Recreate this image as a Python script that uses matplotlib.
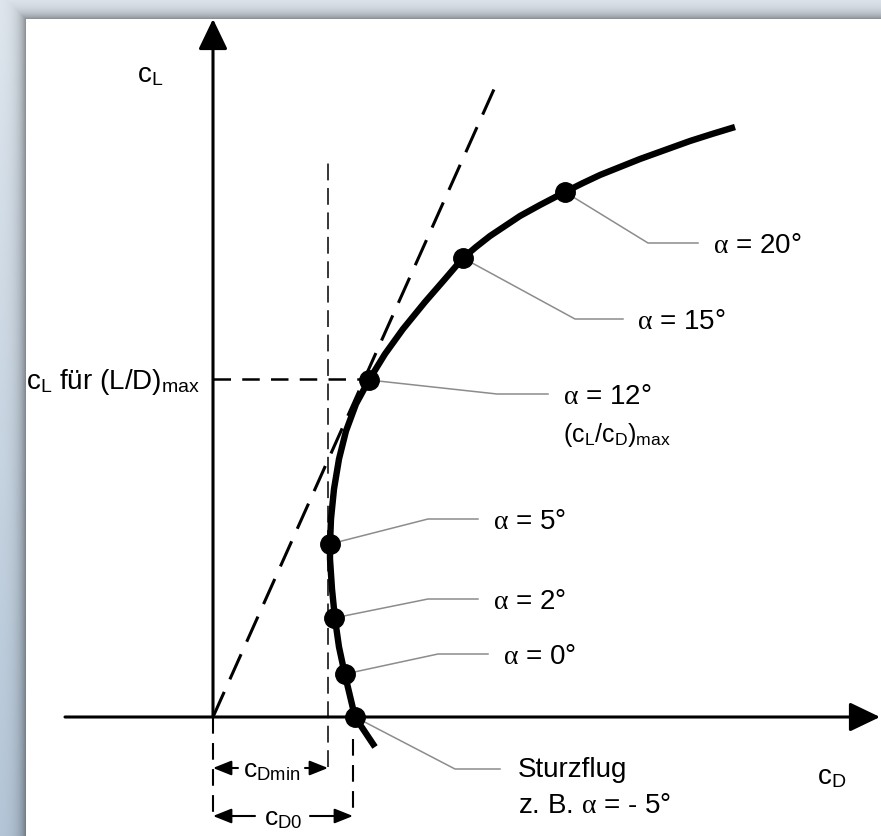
import numpy as np
import matplotlib
matplotlib.use('Agg')
import matplotlib.pyplot as plt

plt.rcParams['font.family'] = ['Liberation Sans', 'DejaVu Sans']
plt.rcParams['mathtext.fontset'] = 'custom'
plt.rcParams['mathtext.rm'] = 'Liberation Sans'
plt.rcParams['mathtext.it'] = 'Liberation Serif'
plt.rcParams['mathtext.bf'] = 'Liberation Sans:bold'

# ---------------- data (arbitrary units) ----------------
alpha_deg = [-5, 0, 2, 5, 12, 15, 20]
cD_marks = [1.42, 1.32, 1.21, 1.17, 1.56, 2.50, 3.52]
cL_marks = [0.00, 0.43, 0.99, 1.73, 3.37, 4.59, 5.25]

polar_cD = [1.62, 1.52, 1.42, 1.37, 1.32, 1.26, 1.22, 1.19, 1.17, 1.17, 1.18, 1.21,
            1.26, 1.33, 1.43, 1.56, 1.72, 1.90, 2.12, 2.32, 2.50, 2.63, 2.77, 2.92,
            3.07, 3.27, 3.52, 3.70, 3.87, 4.07, 4.27, 4.52, 4.77, 4.99, 5.22]
polar_cL = [-0.30, -0.15, 0.00, 0.21, 0.42, 0.70, 0.98, 1.28, 1.58, 1.73, 1.98, 2.28,
            2.58, 2.86, 3.13, 3.37, 3.63, 3.88, 4.15, 4.38, 4.59, 4.70, 4.81, 4.91,
            5.01, 5.12, 5.25, 5.34, 5.42, 5.50, 5.58, 5.67, 5.76, 5.83, 5.90]

cD_min = 1.15
cD_0 = 1.40
cL_LDmax = 3.38
tangent_cD = [0.0, 2.82]
tangent_cL = [0.0, 6.30]

labels = [r'z. B. $\alpha$ = - 5°', r'$\alpha$ = 0°', r'$\alpha$ = 2°', r'$\alpha$ = 5°',
          r'$\alpha$ = 12°', r'$\alpha$ = 15°', r'$\alpha$ = 20°']

# ---------------- layout ----------------
W, H = 881, 837
fig = plt.figure(figsize=(W / 100, H / 100), dpi=100)

# background with panel + shadow
yy, xx = np.mgrid[0:H, 0:W].astype(float)
t = yy / H
base = np.stack([0.88 - 0.17 * t, 0.91 - 0.13 * t, 0.94 - 0.09 * t], axis=-1)
px0, py0 = 26, 20
d = np.maximum(px0 - xx, py0 - yy)
shadow = np.where(d > 0, 0.42 * np.exp(-d / 7.0), 0.0)
img = base * (1 - shadow[..., None])
inside = (xx >= px0) & (yy >= py0)
img[inside] = 1.0
bg = fig.add_axes([0, 0, 1, 1])
bg.imshow(np.clip(img, 0, 1), extent=[0, W, H, 0], aspect='auto', interpolation='bilinear')
bg.set_axis_off()

ax = fig.add_axes([0, 0, 1, 1])
ax.set_facecolor('none')
ax.set_xlim(-2.13, 6.68)
ax.set_ylim(-1.19, 7.18)
ax.set_axis_off()

PX = 0.01  # data units per pixel
FS = 20

# axes with arrows
axis_style = '-|>,head_length=0.75,head_width=0.36'
ax.annotate('', xy=(6.67, 0), xytext=(-1.48, 0), annotation_clip=False,
            arrowprops=dict(arrowstyle=axis_style, lw=2.2,
                            color='black', mutation_scale=25, shrinkA=0, shrinkB=0))
ax.annotate('', xy=(0, 6.98), xytext=(0, 0), annotation_clip=False,
            arrowprops=dict(arrowstyle=axis_style, lw=2.2,
                            color='black', mutation_scale=25, shrinkA=0, shrinkB=0))

# tangent
ax.plot(tangent_cD, tangent_cL, color='black', lw=2.2, dashes=(9, 4.5), zorder=3)
# vertical cDmin line
ax.plot([cD_min, cD_min], [-0.50, 5.58], color='black', lw=1.1, dashes=(11, 5), zorder=3)
# horizontal cL (L/D)max
ax.plot([0, cD_marks[4]], [cL_LDmax, cL_LDmax], color='black', lw=1.8, dashes=(7, 4.5), zorder=3)
# vertical dims
ax.plot([0, 0], [0, -1.00], color='black', lw=1.5, dashes=(8, 4.5), zorder=3)
ax.plot([cD_0, cD_0], [-0.22, -1.00], color='black', lw=1.5, dashes=(8, 4.5), zorder=3)

# polar curve
ax.plot(polar_cD, polar_cL, color='black', lw=4.6, solid_capstyle='butt',
        solid_joinstyle='round', zorder=4)
ax.plot(cD_marks, cL_marks, 'o', color='black', ms=14, zorder=5)

# leaders: (elbow dx, elbow dy, horizontal length, text gap) in px, y down
leader = [(100, 52, 45, 18), (93, -20, 50, 15), (94, -19, 50, 15), (98, -25, 50, 15),
          (128, 14, 51, 15), (112, 61, 48, 14), (83, 51, 50, 15)]
for i, (cd, cl) in enumerate(zip(cD_marks, cL_marks)):
    ex, ey, hl, gap = leader[i]
    x1, y1 = cd + ex * PX, cl - ey * PX
    x2 = x1 + hl * PX
    ax.plot([cd, x1, x2], [cl, y1, y1], color='#8c8c8c', lw=1.1, zorder=2)
    if i == 0:
        ax.text(x2 + gap * PX, y1, 'Sturzflug', fontsize=FS, ha='left', va='center')
        ax.text(x2 + gap * PX, y1 - 0.36, labels[i], fontsize=FS, ha='left', va='center')
    else:
        ax.text(x2 + gap * PX, y1 - 0.02, labels[i], fontsize=FS, ha='left', va='center')
        if i == 4:
            ax.text(x2 + gap * PX, y1 - 0.40,
                    r'(c$_\mathrm{L}$/c$_\mathrm{D}$)$_\mathrm{max}$',
                    fontsize=FS - 2, ha='left', va='center')

# dimension arrows
dim_style = '-|>,head_length=0.8,head_width=0.32'
for (x_from, x_to, yv) in [(0.25, 0.0, -0.51), (0.92, cD_min, -0.51),
                           (0.42, 0.0, -0.99), (0.97, cD_0, -0.99)]:
    ax.annotate('', xy=(x_to, yv), xytext=(x_from, yv), annotation_clip=False,
                arrowprops=dict(arrowstyle=dim_style, lw=1.5, color='black',
                                mutation_scale=14, shrinkA=0, shrinkB=0))
ax.text(0.585, -0.53, r'c$_\mathrm{Dmin}$', fontsize=FS - 1, ha='center', va='center')
ax.text(0.70, -1.01, r'c$_\mathrm{D0}$', fontsize=FS - 1, ha='center', va='center')

# axis labels
ax.text(-0.63, 6.43, r'c$_\mathrm{L}$', fontsize=FS, ha='center', va='center')
ax.text(6.19, -0.59, r'c$_\mathrm{D}$', fontsize=FS, ha='center', va='center')
ax.text(-1.87, 3.36, r'c$_\mathrm{L}$ für (L/D)$_\mathrm{max}$', fontsize=FS, ha='left', va='center')

fig.savefig('out.png', dpi=100)
